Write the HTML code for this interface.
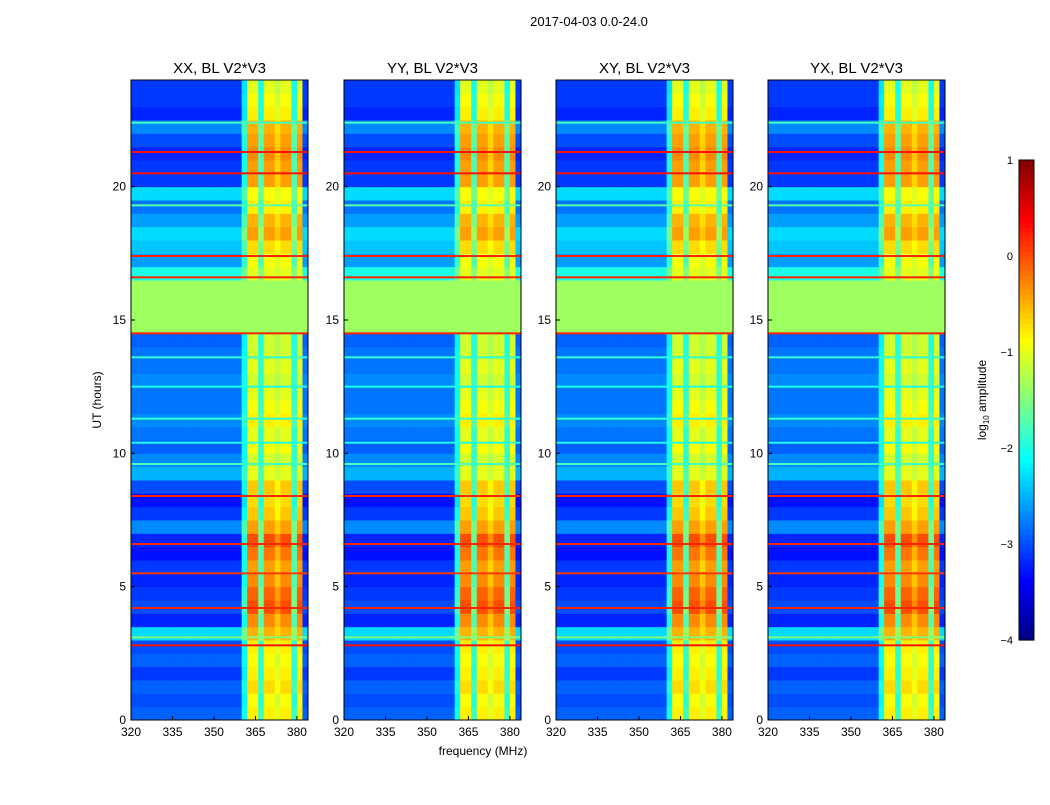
<!DOCTYPE html>
<html><head><meta charset="utf-8"><style>
body{margin:0;background:#fff;width:1050px;height:800px;overflow:hidden;font-family:"Liberation Sans",sans-serif}
</style></head><body>
<svg id="fig" width="1050" height="800" xmlns="http://www.w3.org/2000/svg" font-family="Liberation Sans, sans-serif">
<text x="589" y="26" font-size="13" text-anchor="middle">2017-04-03 0.0-24.0</text>
<text x="483" y="755" font-size="12" text-anchor="middle">frequency (MHz)</text>
<text x="101" y="400" font-size="12" text-anchor="middle" transform="rotate(-90 101 400)">UT (hours)</text>
<text x="986" y="400" font-size="12" text-anchor="middle" transform="rotate(-90 986 400)">log<tspan font-size="8" dy="3">10</tspan><tspan dy="-3"> amplitude</tspan></text>
</svg>
<script>
const panelTitles=["XX, BL V2*V3","YY, BL V2*V3","XY, BL V2*V3","YX, BL V2*V3"];
const panelLeft=[131,344,556,768];
const xTicks=[320,335,350,365,380];
const yTicks=[0,5,10,15,20];
const cbTicks=[1,0,-1,-2,-3,-4];
// background level per half-hour row (0..23.5 h)
const bgLevel=[-2.9,-3.0,-2.9,-3.1,-2.9,-3.0,-2.3,-3.2,-3.0,-3.1,-3.2,-3.1,-3.3,-3.2,-2.7,-3.1,-3.3,-3.0,-2.5,-2.7,-2.9,-2.8,-2.7,-2.8,-2.8,-2.7,-2.8,-2.8,-2.9,-1.35,-1.35,-1.35,-1.35,-2.0,-2.6,-2.4,-2.3,-2.6,-2.8,-2.3,-3.1,-3.1,-3.2,-3.0,-2.7,-3.2,-3.1,-3.1];
// RFI band level per half-hour row
const rfiLevel=[-0.8,-0.9,-0.7,-0.8,-0.9,-0.8,-0.5,-0.3,0.0,-0.1,-0.3,-0.4,-0.2,0.0,-0.4,-0.6,-0.7,-0.6,-1.0,-1.1,-0.9,-1.0,-0.8,-0.9,-1.0,-1.1,-1.0,-1.1,-1.1,-1.35,-1.35,-1.35,-1.35,-1.0,-0.9,-0.7,-0.4,-0.5,-0.8,-0.9,-0.4,-0.4,-0.3,-0.4,-0.5,-0.8,-0.9,-1.0];
// RFI weight per 2 MHz column (320..384)
const freqWeight=[0,0,0,0,0,0,0,0,0,0,0,0,0,0,0,0,0,0,0,0,0.4,1,1,0.5,1,1,0.9,1,1,0.5,1,0];
// thin horizontal lines: hour, level
const lineHours=[2.8,3.1,4.2,5.5,6.6,8.4,9.6,10.4,11.3,12.5,13.6,14.5,16.6,17.4,19.3,20.5,21.3,22.4];
const lineLevels=[0.3,-1.5,0.2,0.1,0.2,0.2,-1.8,-2.0,-1.9,-2.0,-1.9,0.2,0.2,0.2,-1.7,0.3,0.3,-1.8];
const NS="http://www.w3.org/2000/svg";
const fig=document.getElementById('fig');
const y0=80,y1=720,pw=177,fmin=320,fmax=384,tmax=24;
const yS=h=>y1-(h/tmax)*(y1-y0);
function jet(v){let t=Math.max(0,Math.min(1,(v+4)/5));
 const f=x=>Math.round(255*Math.max(0,Math.min(1,x)));
 return `rgb(${f(1.5-Math.abs(4*t-3))},${f(1.5-Math.abs(4*t-2))},${f(1.5-Math.abs(4*t-1))})`;}
function mk(tag,at,par){const e=document.createElementNS(NS,tag);for(const k in at)e.setAttribute(k,at[k]);(par||fig).appendChild(e);return e;}
panelLeft.forEach((x0,p)=>{
 const xS=f=>x0+(f-fmin)/(fmax-fmin)*pw;
 const g=mk('g',{});
 
 
 const cw=2;
 bgLevel.forEach((b,r)=>{
  freqWeight.forEach((w,c)=>{
   const v=b+w*(rfiLevel[r]-b);
   const f0=fmin+c*cw;
   const rc=mk('rect',{x:xS(f0),y:yS(r*0.5+0.5),width:xS(f0+cw)-xS(f0)+0.5,height:yS(r*0.5)-yS(r*0.5+0.5)+0.5,fill:jet(v)},g);
   
   
  });
 });
 lineHours.forEach((h,i)=>{
  const ln=mk('rect',{x:x0,y:yS(h)-1,width:pw,height:2,fill:jet(lineLevels[i])},g);
  
  
 });
 mk('rect',{x:x0,y:y0,width:pw,height:y1-y0,fill:'none',stroke:'#000','stroke-width':1},g);
 const tt=mk('text',{x:x0+pw/2,y:73,'font-size':15,'text-anchor':'middle'},g);tt.textContent=panelTitles[p];
 
 
 xTicks.forEach(f=>{const x=xS(f);mk('line',{x1:x,x2:x,y1:y1,y2:y1-4,stroke:'#000'},g);
  const t=mk('text',{x:x,y:736,'font-size':12,'text-anchor':'middle'},g);t.textContent=f;
  
  });
 yTicks.forEach(h=>{const y=yS(h);mk('line',{x1:x0,x2:x0+4,y1:y,y2:y,stroke:'#000'},g);
  const t=mk('text',{x:x0-5,y:y+4,'font-size':12,'text-anchor':'end'},g);t.textContent=h;
  
  });
});
// colorbar
const cb=mk('g',{});


const cy0=160,cy1=640,cx=1019,cwid=15;
for(let i=0;i<100;i++){const v=-4+5*i/100;const y=cy1-(i+1)*(cy1-cy0)/100;
 mk('rect',{x:cx,y:y,width:cwid,height:(cy1-cy0)/100+0.6,fill:jet(v+0.025)},cb);}
mk('rect',{x:cx,y:cy0,width:cwid,height:cy1-cy0,fill:'none',stroke:'#000'},cb);
cbTicks.forEach(v=>{const y=cy1-(v+4)/5*(cy1-cy0);
 const t=mk('text',{x:1013,y:y+4,'font-size':11,'text-anchor':'end'},cb);t.textContent=v<0?'\u2212'+(-v):v;
 
 });
</script>
</body></html>
